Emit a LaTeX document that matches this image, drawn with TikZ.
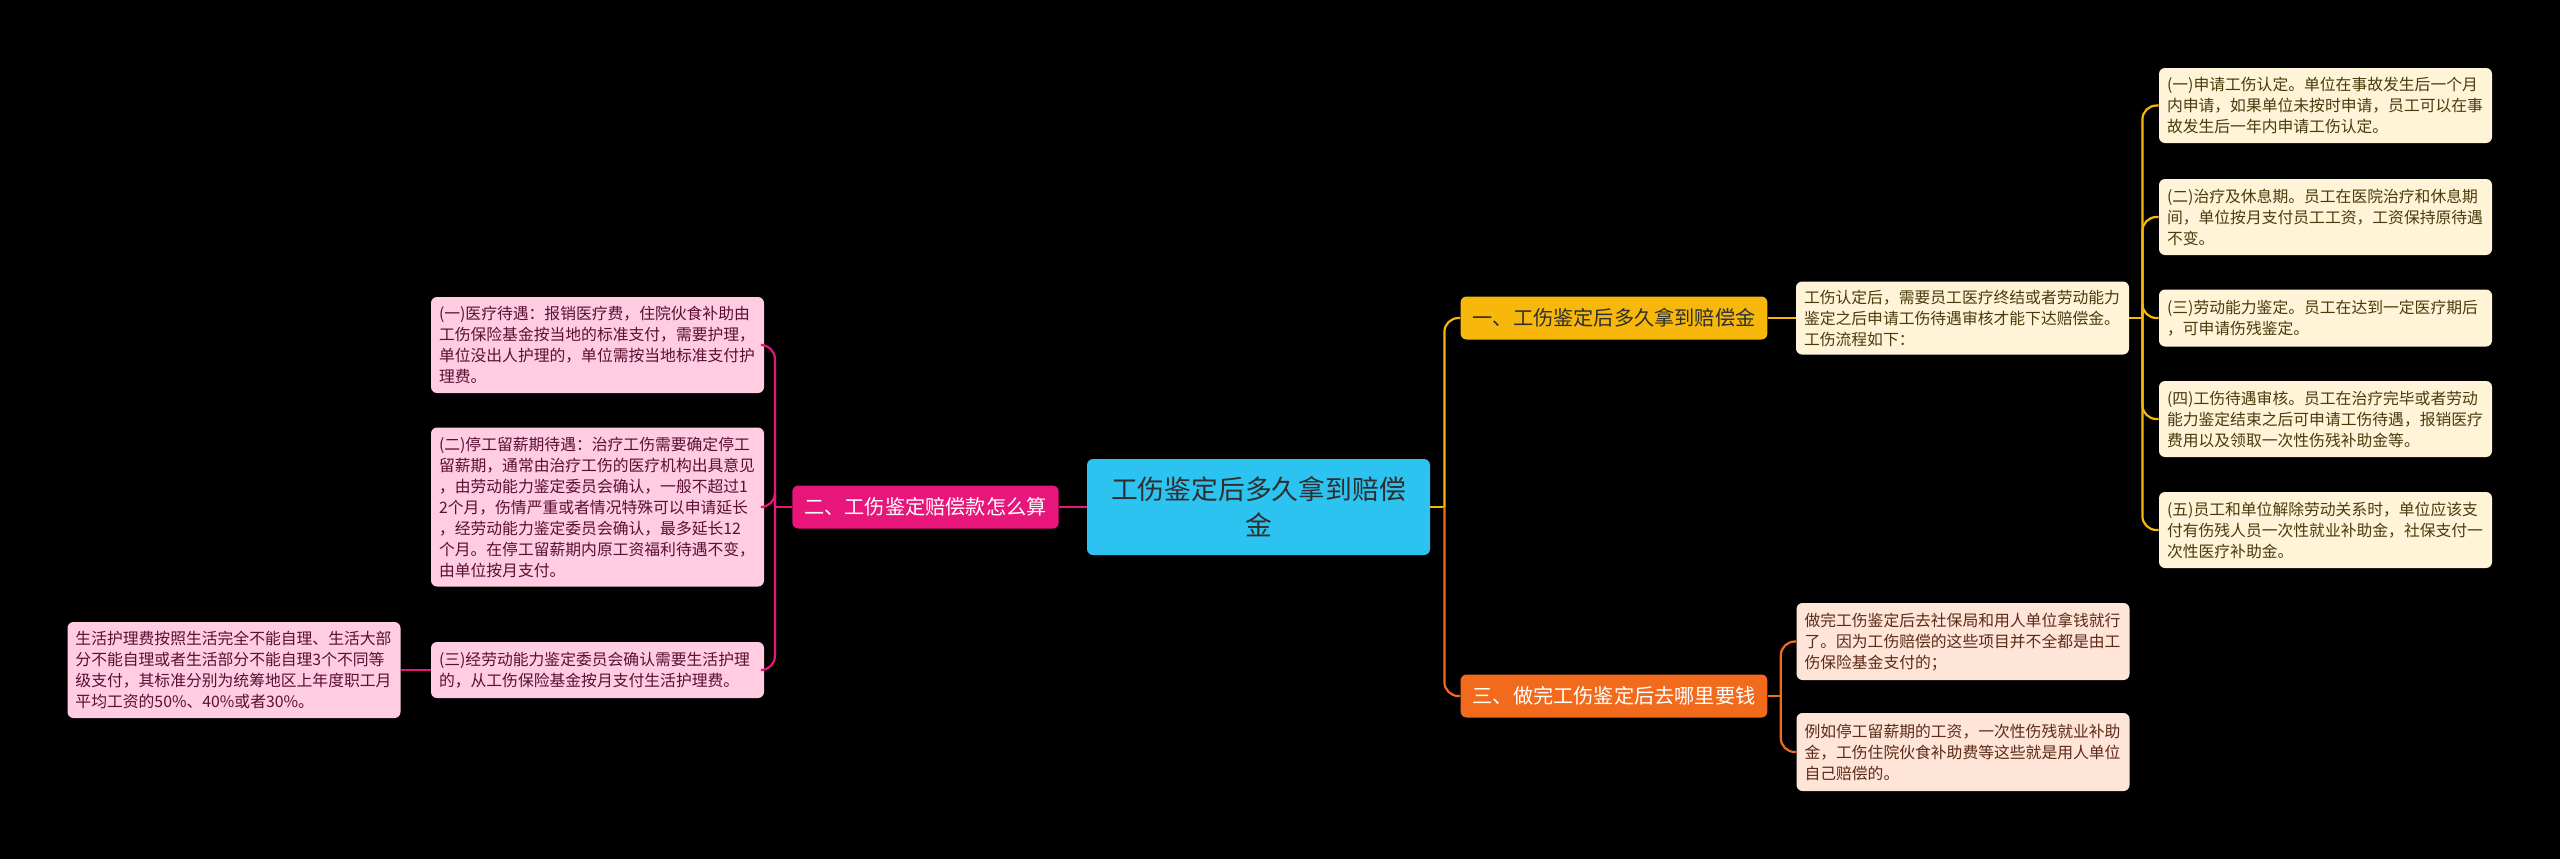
\documentclass[tikz,border=0pt]{standalone}
\usepackage{fontspec}
\usetikzlibrary{positioning}
\newfontfamily\cjk{Noto Sans CJK SC}
\definecolor{rootc}{HTML}{2DC3F0}
\definecolor{amber}{HTML}{F7B80B}
\definecolor{tang}{HTML}{F26A1B}
\definecolor{rose}{HTML}{E8157A}
\definecolor{cream}{HTML}{FFF4D8}
\definecolor{peach}{HTML}{FFE4D8}
\definecolor{blush}{HTML}{FFCCE1}
\definecolor{darkt}{HTML}{2E2E2E}
\definecolor{creamt}{HTML}{4A3A0C}
\definecolor{peacht}{HTML}{5B2B17}
\definecolor{blusht}{HTML}{5A0F33}

\begin{document}
\begin{tikzpicture}[x=0.5pt,y=-0.5pt,
 root/.style={fill=rootc,text=darkt,rounded corners=3pt,minimum width=171.5pt,minimum height=48pt,align=center,font=\cjk\fontsize{13.4}{18}\selectfont},
 topic/.style={rounded corners=3pt,inner xsep=6pt,minimum height=21.5pt,font=\cjk\fontsize{10.1}{12}\selectfont},
 leaf/.style={rounded corners=3pt,inner xsep=4pt,inner ysep=3pt,text width=158.5pt,align=left,minimum height=#1,font=\cjk\fontsize{7.9}{10.5}\selectfont},
 yleaf/.style={leaf=#1,fill=cream,text=creamt},
 oleaf/.style={leaf=#1,fill=peach,text=peacht},
 pleaf/.style={leaf=#1,fill=blush,text=blusht},
 yline/.style={draw=amber,line width=1.1pt,rounded corners=7pt},
 oline/.style={draw=tang,line width=1.1pt,rounded corners=7pt},
 pline/.style={draw=rose,line width=1.1pt,rounded corners=7pt}]
 \fill[black] (0,0) rectangle (2560,859);

 \node[root] (c) at (1258.5,507) {工伤鉴定后多久拿到赔偿\\金};

 \node[topic,fill=amber,text=darkt] (b1) at (1614,318) {一、工伤鉴定后多久拿到赔偿金};
 \node[topic,fill=tang,text=white] (b3) at (1614,696) {三、做完工伤鉴定后去哪里要钱};
 \node[topic,fill=rose,text=white] (b2) at (925.5,507) {二、工伤鉴定赔偿款怎么算};

 \node[yleaf=36.5pt] (y0) at (1962.5,318) {工伤认定后，需要员工医疗终结或者劳动能力\\鉴定之后申请工伤待遇审核才能下达赔偿金。\\工伤流程如下：};
 \node[yleaf=37.5pt] (ya) at (2325.5,105.5) {(一)申请工伤认定。单位在事故发生后一个月\\内申请，如果单位未按时申请，员工可以在事\\故发生后一年内申请工伤认定。};
 \node[yleaf=38pt] (yb) at (2325.5,217) {(二)治疗及休息期。员工在医院治疗和休息期\\间，单位按月支付员工工资，工资保持原待遇\\不变。};
 \node[yleaf=28.5pt] (yc) at (2325.5,318) {(三)劳动能力鉴定。员工在达到一定医疗期后\\，可申请伤残鉴定。};
 \node[yleaf=38pt] (yd) at (2325.5,419) {(四)工伤待遇审核。员工在治疗完毕或者劳动\\能力鉴定结束之后可申请工伤待遇，报销医疗\\费用以及领取一次性伤残补助金等。};
 \node[yleaf=38pt] (ye) at (2325.5,530) {(五)员工和单位解除劳动关系时，单位应该支\\付有伤残人员一次性就业补助金，社保支付一\\次性医疗补助金。};

 \node[oleaf=38.5pt] (oa) at (1963,641.5) {做完工伤鉴定后去社保局和用人单位拿钱就行\\了。因为工伤赔偿的这些项目并不全都是由工\\伤保险基金支付的；};
 \node[oleaf=39pt] (ob) at (1963,752) {例如停工留薪期的工资，一次性伤残就业补助\\金，工伤住院伙食补助费等这些就是用人单位\\自己赔偿的。};

 \node[pleaf=48pt] (pa) at (597.5,345) {(一)医疗待遇：报销医疗费，住院伙食补助由\\工伤保险基金按当地的标准支付，需要护理，\\单位没出人护理的，单位需按当地标准支付护\\理费。};
 \node[pleaf=79.5pt] (pb) at (597.5,507) {(二)停工留薪期待遇：治疗工伤需要确定停工\\留薪期，通常由治疗工伤的医疗机构出具意见\\，由劳动能力鉴定委员会确认，一般不超过1\\2个月，伤情严重或者情况特殊可以申请延长\\，经劳动能力鉴定委员会确认，最多延长12\\个月。在停工留薪期内原工资福利待遇不变，\\由单位按月支付。};
 \node[pleaf=28pt] (pc) at (597.5,670) {(三)经劳动能力鉴定委员会确认需要生活护理\\的，从工伤保险基金按月支付生活护理费。};
 \node[pleaf=48pt] (fl) at (234,670) {生活护理费按照生活完全不能自理、生活大部\\分不能自理或者生活部分不能自理3个不同等\\级支付，其标准分别为统筹地区上年度职工月\\平均工资的50\%、40\%或者30\%。};

 \draw[yline] (c.east) -- ++(14,0) coordinate (ct);
 \draw[yline] (ct) |- (b1.west);
 \draw[oline] (ct) |- (b3.west);
 \draw[pline] (c.west) -- (b2.east);
 \draw[yline] (b1.east) -- (y0.west);
 \draw[yline] (y0.east) -- ++(13,0) coordinate (yt);
 \foreach \n in {ya,yb,yc,yd,ye}
  \draw[yline] (yt) |- (\n.west);
 \draw[oline] (b3.east) -- ++(13,0) coordinate (ot);
 \foreach \n in {oa,ob}
  \draw[oline] (ot) |- (\n.west);
 \draw[pline] (b2.west) -- ++(-17,0) coordinate (pt);
 \foreach \n in {pa,pb,pc}
  \draw[pline] (pt) |- (\n.east);
 \draw[pline] (pc.west) -- (fl.east);
\end{tikzpicture}
\end{document}
